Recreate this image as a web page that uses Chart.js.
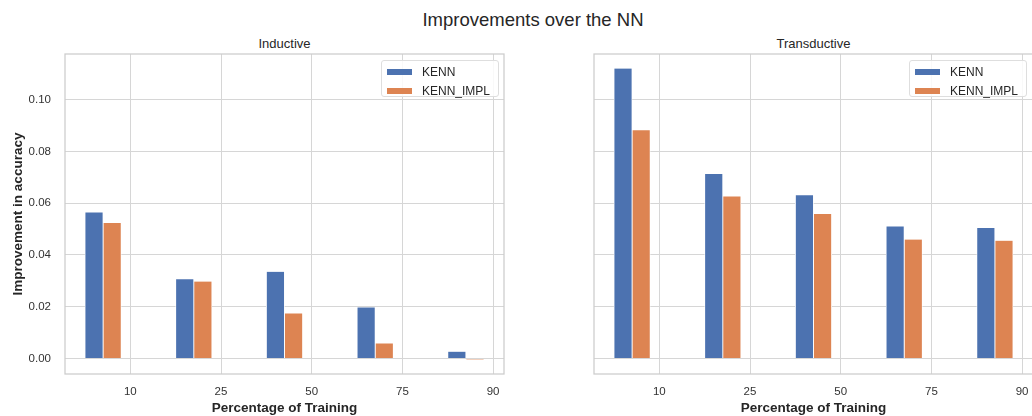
<!DOCTYPE html>
<html>
<head>
<meta charset="utf-8">
<script src="https://cdn.jsdelivr.net/npm/chart.js@4.4.1/dist/chart.umd.min.js"></script>
<style>
  html, body { margin:0; padding:0; background:#fff; }
  body { width:1032px; height:416px; overflow:hidden; position:relative; font-family:"Liberation Sans", Arial, sans-serif; color:#262626; }
  canvas { position:absolute; top:0; }
  .t { position:absolute; line-height:1; white-space:nowrap; transform:translate(-50%,-50%); }
  .legend { position:absolute; border:1px solid #dedede; border-radius:3px; background:rgba(255,255,255,0.85); box-sizing:border-box; }
  .legend .row { position:absolute; left:0; height:12px; line-height:12px; font-size:12px; }
  .legend .sw { position:absolute; left:5px; top:3px; width:25px; height:6px; }
  .legend .lb { position:absolute; left:40px; top:0; }
</style>
</head>
<body>
<div class="t" style="left:533px; top:20px; font-size:18.5px;">Improvements over the NN</div>
<div class="t" style="left:284.5px; top:43px; font-size:13px;">Inductive</div>
<div class="t" style="left:813.5px; top:43px; font-size:13px;">Transductive</div>
<canvas id="c1" width="520" height="416" style="left:0px;"></canvas>
<canvas id="c2" width="520" height="416" style="left:520px;"></canvas>
<div id="lg1" class="legend" style="left:381px; top:60px; width:118px; height:37px;"></div>
<div id="lg2" class="legend" style="left:909px; top:60px; width:118px; height:37px;"></div>
<script>
// ---- data ----
const categories = ['10', '25', '50', '75', '90'];
const seriesNames = ['KENN', 'KENN_IMPL'];
const inductiveKENN = [0.0564, 0.0306, 0.0335, 0.0197, 0.0026];
const inductiveIMPL = [0.0523, 0.0297, 0.0174, 0.0058, -0.0004];
const transductiveKENN = [0.1120, 0.0713, 0.0630, 0.0510, 0.0504];
const transductiveIMPL = [0.0882, 0.0626, 0.0558, 0.0459, 0.0455];
const yTicks = [0.00, 0.02, 0.04, 0.06, 0.08, 0.10];

// ---- styling ----
const colors = ['#4C72B0', '#DD8452'];
const barWidthUnits = 0.2;        // width of one bar in category units
const slotOffsets = [-0.4, -0.2]; // bar centres relative to category tick
const FONT = '"Liberation Sans", Arial, sans-serif';
Chart.defaults.font.family = FONT;
Chart.defaults.color = '#333';

// shared axis limits (matplotlib-like 5% margins)
const allVals = [].concat(inductiveKENN, inductiveIMPL, transductiveKENN, transductiveIMPL);
const vMax = Math.max(...allVals), vMin = Math.min(0, ...allVals);
const yPad = (vMax - vMin) * 0.05;
const xLo = 0 + slotOffsets[0] - barWidthUnits / 2;
const xHi = (categories.length - 1) + slotOffsets[1] + barWidthUnits / 2;
const xPad = (xHi - xLo) * 0.05;

const framePlugin = {
  id: 'frame',
  afterDraw(chart) {
    const a = chart.chartArea, ctx = chart.ctx;
    ctx.save();
    ctx.strokeStyle = '#cccccc';
    ctx.lineWidth = 1.25;
    ctx.strokeRect(a.left, a.top, a.right - a.left, a.bottom - a.top);
    ctx.restore();
  }
};

function makeChart(id, kenn, impl, showY, padRight, yWidth) {
  const series = [kenn, impl];
  const plotW = 520 - padRight - yWidth;
  const unitPx = plotW / ((xHi + xPad) - (xLo - xPad));
  const datasets = series.map((vals, s) => ({
    label: seriesNames[s],
    data: vals.map((v, i) => ({ x: i + slotOffsets[s], y: v })),
    backgroundColor: colors[s],
    borderColor: '#ffffff',
    borderWidth: { left: 0.8, right: 0.8, top: 0, bottom: 0 },
    borderSkipped: false,
    grouped: false,
    barThickness: unitPx * barWidthUnits
  }));
  return new Chart(document.getElementById(id), {
    type: 'bar',
    data: { datasets },
    plugins: [framePlugin],
    options: {
      responsive: false,
      animation: false,
      devicePixelRatio: 1,
      layout: { padding: { left: 0, right: padRight, top: 54, bottom: 0 } },
      plugins: { legend: { display: false }, tooltip: { enabled: false }, title: { display: false } },
      scales: {
        x: {
          type: 'linear',
          offset: false,
          min: xLo - xPad,
          max: xHi + xPad,
          afterBuildTicks: (sc) => { sc.ticks = categories.map((c, i) => ({ value: i })); },
          afterFit: (sc) => { sc.height = 42; },
          grid: { color: '#d6d6d6', lineWidth: 1, drawTicks: false, offset: false },
          border: { display: false },
          ticks: {
            autoSkip: false, maxRotation: 0, padding: 11,
            font: { size: 11.5 }, color: '#333',
            callback: (v) => categories[Math.round(v)]
          },
          title: {
            display: true, text: 'Percentage of Training',
            font: { size: 13.5, weight: 'bold' }, color: '#262626',
            padding: { top: 0, bottom: 0 }
          }
        },
        y: {
          type: 'linear',
          min: vMin - yPad,
          max: vMax + yPad,
          afterBuildTicks: (sc) => { sc.ticks = yTicks.map(v => ({ value: v })); },
          afterFit: (sc) => { sc.width = yWidth; },
          grid: { color: '#d6d6d6', lineWidth: 1, drawTicks: false },
          border: { display: false },
          ticks: {
            display: showY, padding: 14,
            font: { size: 11.5 }, color: '#333',
            callback: (v) => Number(v).toFixed(2)
          },
          title: {
            display: showY, text: 'Improvement in accuracy',
            font: { size: 13.5, weight: 'bold' }, color: '#262626',
            padding: { top: 10, bottom: 0 }
          }
        }
      }
    }
  });
}

makeChart('c1', inductiveKENN, inductiveIMPL, true, 16, 65);
makeChart('c2', transductiveKENN, transductiveIMPL, false, 7, 74);

function buildLegend(id) {
  const el = document.getElementById(id);
  seriesNames.forEach((name, s) => {
    const row = document.createElement('div');
    row.className = 'row';
    row.style.top = (5 + s * 18.5) + 'px';
    row.style.width = '100%';
    const sw = document.createElement('div');
    sw.className = 'sw';
    sw.style.background = colors[s];
    const lb = document.createElement('div');
    lb.className = 'lb';
    lb.textContent = name;
    row.appendChild(sw); row.appendChild(lb);
    el.appendChild(row);
  });
}
buildLegend('lg1');
buildLegend('lg2');
</script>
</body>
</html>
